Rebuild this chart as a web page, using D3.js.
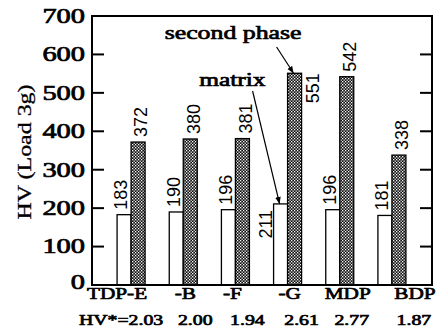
<!DOCTYPE html>
<html>
<head>
<meta charset="utf-8">
<script src="https://cdn.jsdelivr.net/npm/d3@7"></script>
<style>
  html, body { margin: 0; padding: 0; background: #fff; }
  svg { display: block; }
</style>
</head>
<body>
<svg id="chart" width="444" height="330"></svg>
<script>
// Vickers hardness of the matrix and second phase for each alloy
const categories = ["TDP-E", "-B", "-F", "-G", "MDP", "BDP"];
const matrixHV = [183, 190, 196, 211, 196, 181];
const secondPhaseHV = [372, 380, 381, 551, 542, 338];
const ratioLabels = ["HV*=2.03", "2.00", "1.94", "2.61", "2.77", "1.87"];
const yTicks = [0, 100, 200, 300, 400, 500, 600, 700];

const svg = d3.select("#chart");
const serif = "'Liberation Serif', 'Times New Roman', serif";
const sans = "'Liberation Sans', Arial, sans-serif";

const frame = { left: 92, right: 432, top: 16, bottom: 285 };

const y = d3.scaleLinear().domain([0, 700]).range([frame.bottom, frame.top]);
const x = d3.scaleBand().domain(categories).range([105, 418]).padding(0);
const barW = 14;
const center = c => x(c) + x.bandwidth() / 2;

// heavy, widened serif label placed at (px, py)
function heavy(sel, px, py, k) {
  sel.attr("font-family", serif)
    .attr("fill", "#000").attr("stroke", "#000").attr("stroke-width", 0.7)
    .attr("transform", (d, i) => {
      const X = typeof px === "function" ? px(d, i) : px;
      const Y = typeof py === "function" ? py(d, i) : py;
      return `translate(${X},${Y}) scale(${k},1)`;
    });
  return sel;
}

// hatch fill for the second-phase bars
const defs = svg.append("defs");
const pat = defs.append("pattern")
  .attr("id", "hatch").attr("patternUnits", "userSpaceOnUse")
  .attr("width", 3).attr("height", 3);
pat.append("rect").attr("width", 3).attr("height", 3).attr("fill", "#111");
pat.append("rect").attr("x", 0).attr("y", 0).attr("width", 1.3).attr("height", 1.3).attr("fill", "#fff");
pat.append("rect").attr("x", 1.5).attr("y", 1.5).attr("width", 1.3).attr("height", 1.3).attr("fill", "#fff");

defs.append("marker")
  .attr("id", "arrow").attr("viewBox", "0 0 10 10")
  .attr("refX", 10).attr("refY", 5)
  .attr("markerWidth", 7).attr("markerHeight", 7)
  .attr("markerUnits", "userSpaceOnUse")
  .attr("orient", "auto")
  .append("path").attr("d", "M0,1 L10,5 L0,9 Z").attr("fill", "#000");

// bars
const rows = categories.map((c, i) => ({ c, m: matrixHV[i], s: secondPhaseHV[i] }));

svg.append("g").selectAll("rect").data(rows).join("rect")
  .attr("x", d => center(d.c) - barW)
  .attr("y", d => y(d.m))
  .attr("width", barW)
  .attr("height", d => y(0) - y(d.m))
  .attr("fill", "#fff").attr("stroke", "#000").attr("stroke-width", 1.3);

svg.append("g").selectAll("rect").data(rows).join("rect")
  .attr("x", d => center(d.c))
  .attr("y", d => y(d.s))
  .attr("width", barW)
  .attr("height", d => y(0) - y(d.s))
  .attr("fill", "url(#hatch)").attr("stroke", "#000").attr("stroke-width", 1.3);

// value labels, rotated, above each bar (the -G pair sits beside its bars)
const vlab = svg.append("g")
  .attr("font-family", sans).attr("font-size", 18).attr("fill", "#000");

rows.forEach(d => {
  const beside = d.c === "-G";
  const mx = beside ? center(d.c) - barW - 8 : center(d.c) - barW / 2 - 3;
  const my = beside ? y(d.m) + 6 : y(d.m) - 5;
  vlab.append("text")
    .attr("transform", `translate(${mx},${my}) rotate(-90)`)
    .attr("text-anchor", beside ? "end" : "start")
    .attr("dy", "0.35em")
    .text(d.m);
  const sx = beside ? center(d.c) + barW + 11 : center(d.c) + barW / 2 + 3;
  const sy = beside ? y(d.s) : y(d.s) - 5;
  vlab.append("text")
    .attr("transform", `translate(${sx},${sy}) rotate(-90)`)
    .attr("text-anchor", beside ? "end" : "start")
    .attr("dy", "0.35em")
    .text(d.s);
});

// frame
svg.append("rect")
  .attr("x", frame.left).attr("y", frame.top)
  .attr("width", frame.right - frame.left).attr("height", frame.bottom - frame.top)
  .attr("fill", "none").attr("stroke", "#000").attr("stroke-width", 2);

// inward ticks on both sides
const tg = svg.append("g").attr("stroke", "#000").attr("stroke-width", 2);
yTicks.forEach(t => {
  tg.append("line").attr("x1", frame.left).attr("x2", frame.left + 12)
    .attr("y1", y(t)).attr("y2", y(t));
  tg.append("line").attr("x1", frame.right - 12).attr("x2", frame.right)
    .attr("y1", y(t)).attr("y2", y(t));
});

// y tick labels
heavy(
  svg.append("g").selectAll("text").data(yTicks).join("text")
    .attr("dy", "0.34em")
    .attr("text-anchor", "end")
    .attr("font-size", 20)
    .text(t => t),
  85, t => t === 0 ? y(t) - 3 : y(t), 1.42);

// y axis title
svg.append("text")
  .attr("transform", "translate(31,152) rotate(-90) scale(1.33,1)")
  .attr("text-anchor", "middle")
  .attr("font-family", serif).attr("font-size", 18)
  .attr("stroke", "#000").attr("stroke-width", 0.3)
  .text("HV (Load 3g)");

// category labels and hardness ratios
const nameShift = [-14, 2, -3, 2, 8, 23];
const ratioShift = [-10, 12, 12, 14, 12, 22];
heavy(
  svg.append("g").selectAll("text").data(categories).join("text")
    .attr("text-anchor", "middle")
    .attr("font-size", 17)
    .text(c => c),
  (c, i) => center(c) + nameShift[i], 299, 1.25);

heavy(
  svg.append("g").selectAll("text").data(categories).join("text")
    .attr("text-anchor", "middle")
    .attr("font-size", 15)
    .text((c, i) => ratioLabels[i]),
  (c, i) => center(c) + ratioShift[i], 325, 1.32);

// annotations pointing at the -G bars
const g = "-G";
const ann = svg.append("g").attr("font-size", 19);
heavy(ann.append("text").attr("text-anchor", "end").text("second phase"),
  center(g) + barW, 39, 1.36);
heavy(ann.append("text").attr("text-anchor", "end").text("matrix"),
  center(g) - barW - 8, 86, 1.34);

svg.append("line")
  .attr("x1", center(g) - 11).attr("y1", 47)
  .attr("x2", center(g) + 6).attr("y2", y(secondPhaseHV[3]))
  .attr("stroke", "#000").attr("stroke-width", 1.2)
  .attr("marker-end", "url(#arrow)");
svg.append("line")
  .attr("x1", center(g) - 35).attr("y1", 91)
  .attr("x2", center(g) - 8).attr("y2", y(matrixHV[3]))
  .attr("stroke", "#000").attr("stroke-width", 1.2)
  .attr("marker-end", "url(#arrow)");
</script>
</body>
</html>
